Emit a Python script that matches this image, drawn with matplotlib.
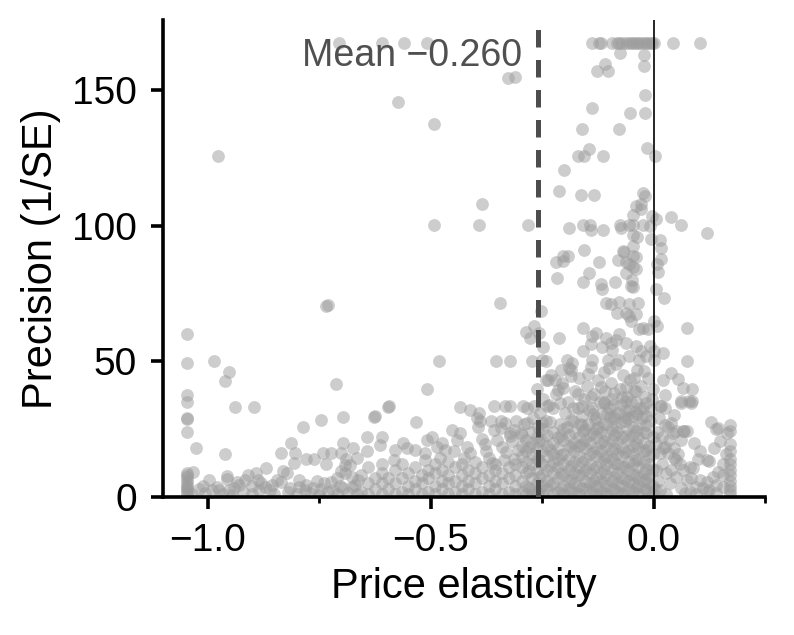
import matplotlib
matplotlib.use("Agg")
import matplotlib.pyplot as plt
import matplotlib.transforms as mtransforms
from matplotlib.ticker import MultipleLocator

plt.rcParams['font.family'] = ['Liberation Sans', 'DejaVu Sans']

mean_elasticity = -0.260
x_ticks = [-1.0, -0.5, 0.0]
x_tick_labels = ['\u22121.0', '\u22120.5', '0.0']
y_ticks = [0, 50, 100, 150]
x_label = 'Price elasticity'
y_label = 'Precision (1/SE)'
mean_label = 'Mean \u22120.260'

# points at the precision cap (top row)
cap_pts = [(-0.705, 167.5), (-0.609, 167.5), (-0.559, 167.5), (-0.508, 167.5), (-0.137, 167.5),
           (-0.122, 167.5), (-0.118, 167.5), (-0.092, 167.5), (-0.083, 167.5), (-0.078, 167.5),
           (-0.075, 164.0), (-0.070, 167.5), (-0.062, 167.5), (-0.054, 167.5), (-0.048, 167.5),
           (-0.043, 167.5), (-0.037, 167.5), (-0.032, 167.5), (-0.026, 167.5), (-0.020, 167.5),
           (-0.014, 167.5), (-0.009, 167.5), (-0.004, 167.5), (0.000, 167.5), (0.043, 167.5),
           (0.105, 167.5)]

# sparse points with high precision
upper_pts = [(-0.022, 163.1), (-0.109, 159.8), (-0.127, 157.2), (-0.101, 157.2), (-0.022, 159.1),
             (-0.326, 154.7), (-0.310, 155.1), (-0.020, 148.3), (-0.574, 145.7), (-0.137, 143.6),
             (-0.053, 141.6), (-0.020, 141.6), (-0.493, 137.7), (-0.161, 135.8), (-0.077, 135.8),
             (-0.144, 128.3), (-0.014, 128.8), (-0.976, 125.7), (-0.170, 125.9), (-0.155, 125.9),
             (-0.113, 125.9), (0.003, 125.9), (-0.201, 120.5), (-0.212, 112.8), (-0.162, 111.5),
             (-0.134, 111.5), (-0.024, 112.2), (-0.019, 110.9), (-0.385, 108.0), (-0.039, 107.2),
             (-0.028, 108.1), (-0.028, 106.3), (-0.047, 104.2), (-0.003, 103.5), (0.006, 102.6),
             (0.040, 103.2), (-0.493, 100.4), (-0.392, 100.4), (-0.282, 100.5), (0.061, 100.5),
             (-0.189, 99.4), (-0.159, 100.5), (-0.143, 100.5), (-0.141, 98.4), (-0.113, 98.4),
             (-0.075, 100.5), (-0.074, 99.4), (-0.054, 100.2), (-0.045, 100.5), (-0.023, 100.5),
             (-0.007, 100.0), (0.121, 97.3), (-0.045, 96.7), (-0.036, 96.0), (-0.006, 95.2),
             (0.014, 94.8), (-0.047, 92.7), (0.016, 91.7), (-0.155, 91.1), (-0.068, 90.9),
             (-0.066, 90.5), (-0.045, 89.0), (-0.039, 88.4), (-0.204, 89.0), (-0.191, 89.0),
             (-0.218, 86.6), (-0.203, 87.2), (-0.122, 86.6), (0.017, 88.0), (0.007, 85.9),
             (0.009, 83.2), (-0.080, 87.4), (-0.062, 86.6), (-0.054, 85.9), (-0.045, 84.7),
             (-0.040, 84.1), (-0.062, 82.8), (-0.216, 80.7), (-0.144, 82.5), (-0.159, 79.4),
             (-0.118, 78.5), (-0.086, 79.4), (-0.048, 80.0), (-0.116, 76.7), (-0.050, 77.9),
             (-0.045, 77.3), (0.006, 76.7), (0.023, 73.6), (-0.107, 71.5), (-0.095, 71.1),
             (-0.078, 72.0), (-0.054, 71.1), (-0.034, 71.5), (-0.345, 71.7), (-0.734, 70.5),
             (-0.731, 70.7), (-0.083, 68.0), (-0.062, 68.0), (-0.253, 68.6), (-0.054, 66.8),
             (-0.039, 67.4), (-0.050, 64.9), (0.000, 64.9), (0.008, 63.1), (-0.024, 62.5),
             (-0.013, 61.9), (-0.032, 61.9), (0.074, 62.5), (-0.159, 62.5), (-0.268, 63.1),
             (-0.287, 60.9), (-0.277, 58.8), (-0.257, 60.6), (-0.129, 60.6), (-0.137, 59.4),
             (-0.077, 60.0), (-1.047, 60.0), (-0.213, 58.8), (-0.107, 58.8), (-0.084, 58.1),
             (-0.140, 56.3), (-0.095, 56.9), (-0.062, 56.9), (-0.247, 55.5), (-0.039, 55.7),
             (-0.009, 55.7), (-0.028, 53.8), (0.000, 53.8), (-0.016, 52.0), (0.021, 53.2),
             (-0.159, 54.0), (-0.116, 55.2), (-0.092, 54.2), (-0.054, 52.0)]

# moderate precision zone left of zero
mid_pts = [(-0.249, 50.7), (0.000, 50.7), (-0.480, 50.0), (-0.354, 50.0), (-0.322, 50.0),
           (-0.273, 50.0), (-0.242, 50.0), (-0.193, 50.7), (-0.182, 49.6), (-0.137, 50.7),
           (-0.101, 50.7), (-0.077, 50.7), (-0.032, 50.7), (-0.189, 47.6), (-0.207, 47.0),
           (-0.185, 44.6), (-0.237, 43.3), (-0.222, 43.3), (-0.204, 40.3), (-0.215, 39.6),
           (-0.242, 43.3), (-0.292, 33.5), (-0.268, 33.5), (-0.239, 33.5), (-0.283, 27.4),
           (-0.249, 27.4), (-0.298, 23.6),
           (-0.290, 27.0), (-0.283, 33.0), (-0.270, 29.0), (-0.262, 40.0), (-0.255, 31.0),
           (-0.247, 36.0), (-0.240, 28.0), (-0.230, 45.0), (-0.225, 33.0), (-0.218, 38.0),
           (-0.210, 27.0), (-0.205, 42.0), (-0.198, 31.0), (-0.192, 35.0), (-0.186, 47.0),
           (-0.180, 28.0), (-0.175, 39.0), (-0.170, 33.0), (-0.166, 44.0), (-0.160, 30.0),
           (-0.155, 36.0), (-0.150, 41.0), (-0.146, 27.0), (-0.141, 48.0), (-0.137, 33.0),
           (-0.133, 38.0), (-0.128, 29.0), (-0.124, 43.0), (-0.120, 35.0), (-0.116, 31.0),
           (-0.112, 46.0), (-0.108, 39.0), (-0.104, 27.0), (-0.100, 33.0), (-0.096, 42.0),
           (-0.092, 36.0), (-0.088, 29.0), (-0.084, 49.0), (-0.080, 31.0), (-0.076, 40.0),
           (-0.072, 34.0), (-0.068, 45.0), (-0.064, 28.0), (-0.060, 37.0), (-0.056, 32.0),
           (-0.052, 43.0), (-0.048, 30.0), (-0.044, 39.0), (-0.040, 35.0), (-0.036, 47.0),
           (-0.032, 27.0), (-0.028, 41.0), (-0.024, 33.0), (-0.020, 37.0), (-0.016, 30.0),
           (-0.012, 44.0), (-0.008, 28.0), (-0.004, 36.0), (-0.001, 40.0),
           (-0.260, 26.0), (-0.235, 34.0), (-0.195, 26.0), (-0.165, 27.0), (-0.145, 32.0),
           (-0.125, 26.0), (-0.105, 31.0), (-0.085, 26.0), (-0.065, 32.0), (-0.045, 26.0),
           (-0.025, 29.0), (-0.006, 32.0), (-0.140, 37.0), (-0.110, 35.0), (-0.090, 34.0),
           (-0.070, 37.0), (-0.050, 35.0), (-0.030, 33.0), (-0.180, 33.0),
           (-0.158, 24.5), (-0.132, 28.5), (-0.097, 29.5), (-0.074, 27.5), (-0.058, 29.0),
           (-0.038, 30.5), (-0.017, 26.5), (-0.118, 40.5), (-0.062, 40.5), (-0.148, 45.5),
           (-0.100, 47.5), (-0.043, 44.0), (-0.022, 46.5), (-0.170, 38.0), (-0.210, 34.5)]

# dense core near the mean: x positions and their precision values
core_col_x = [-0.295, -0.285, -0.272, -0.262, -0.250, -0.238, -0.226, -0.214, -0.202, -0.190,
              -0.178, -0.166, -0.154, -0.142, -0.130, -0.118, -0.106, -0.094, -0.082, -0.070,
              -0.058, -0.046, -0.034, -0.022, -0.010, -0.002]
core_col_y = [[2, 6, 11, 15, 19, 23], [4, 9, 13, 17, 21, 1], [3, 7, 12, 16, 20, 24, 0.8],
              [2, 5, 10, 14, 18, 22], [1, 4, 8, 12, 17, 21, 25], [3, 6, 10, 15, 19, 23],
              [1, 5, 9, 13, 16, 20, 24], [2, 7, 11, 14, 18, 22], [1, 4, 8, 12, 16, 21, 25],
              [3, 6, 10, 14, 19, 23], [2, 5, 9, 13, 17, 20, 24], [1, 4, 8, 11, 15, 19, 22],
              [3, 6, 10, 14, 18, 21, 25], [2, 5, 9, 12, 16, 20, 23], [1, 4, 7, 11, 15, 18, 22, 25],
              [2, 6, 9, 13, 17, 20, 24], [1, 4, 8, 12, 15, 19, 23], [3, 6, 10, 14, 17, 21, 25],
              [2, 5, 9, 12, 16, 20, 24], [1, 4, 7, 11, 15, 18, 22], [3, 6, 10, 13, 17, 21, 25],
              [2, 5, 8, 12, 16, 19, 23], [1, 4, 7, 11, 14, 18, 22], [3, 6, 9, 13, 17, 20, 24],
              [2, 5, 8, 12, 15, 19], [1, 4, 10, 16, 22]]

# second, offset layer of the dense core
core2_col_x = [-0.280, -0.256, -0.232, -0.208, -0.184, -0.160, -0.136, -0.112, -0.088, -0.064,
               -0.040, -0.016]
core2_col_y = [[3.5, 9.5, 18.5], [2.5, 7.5, 13.5, 20.5], [4.5, 11.5, 17.5, 27.5],
               [3.0, 9.0, 15.5, 22.5], [2.0, 6.5, 11.5, 18.5, 28.5],
               [3.5, 8.5, 13.0, 19.5, 26.5, 33.5], [2.5, 6.0, 10.5, 16.5, 23.5, 30.5],
               [1.5, 5.5, 10.0, 14.5, 20.5, 27.0, 34.5], [3.0, 7.5, 12.5, 18.0, 23.0, 30.0, 38.5],
               [2.0, 6.5, 11.0, 16.5, 22.5, 29.5, 35.5], [3.5, 8.0, 13.5, 20.0, 24.5, 31.5, 39.0],
               [2.5, 6.5, 10.5, 17.5, 23.5, 34.5]]

# low precision studies far from zero
left_pts = [(-1.047, 49.3), (-1.047, 37.8), (-1.047, 34.9), (-1.047, 28.8), (-1.046, 29.0),
            (-1.047, 24.0), (-0.986, 50.0), (-0.953, 46.0), (-0.962, 42.7), (-0.711, 41.7),
            (-0.938, 33.2), (-0.896, 33.2), (-0.696, 29.5), (-0.745, 28.3), (-0.786, 26.0),
            (-1.026, 18.0), (-0.962, 15.8), (-0.812, 19.9), (-0.835, 16.4), (-0.805, 16.4),
            (-0.779, 14.0), (-0.761, 14.0), (-0.741, 16.4), (-0.724, 16.4), (-0.734, 12.1),
            (-0.696, 19.9), (-0.700, 16.4), (-0.673, 18.0), (-0.689, 14.0), (-0.692, 11.9),
            (-0.700, 9.6), (-0.806, 12.5), (-0.869, 10.6), (-0.681, 11.9),
            (-1.047, 8.8), (-1.047, 7.5), (-1.047, 6.3), (-1.047, 5.0), (-1.047, 4.1),
            (-1.047, 3.0), (-1.047, 2.0), (-1.047, 1.0), (-1.046, 8.2), (-1.046, 3.5),
            (-1.032, 9.1), (-1.019, 2.8), (-0.996, 6.3), (-0.989, 2.6), (-0.974, 2.6),
            (-0.956, 7.8), (-0.956, 6.5), (-0.953, 2.6), (-0.941, 3.2), (-0.929, 4.4),
            (-0.916, 6.3), (-0.910, 8.1), (-0.891, 8.8), (-0.887, 6.3), (-0.880, 5.1),
            (-0.872, 3.6), (-0.860, 2.6), (-0.845, 6.3), (-0.835, 5.7), (-0.830, 9.6),
            (-0.823, 9.0), (-0.794, 6.3), (-0.794, 3.6), (-0.779, 4.4), (-0.764, 3.2),
            (-0.782, 2.6), (-0.738, 5.1), (-0.723, 5.7), (-0.704, 4.1), (-0.719, 2.6),
            (-0.696, 3.2), (-0.677, 3.6), (-0.662, 6.3), (-0.692, 9.0), (-0.677, 7.5),
            (-1.035, 1.2), (-1.005, 1.5), (-0.965, 1.0), (-0.945, 0.8), (-0.920, 1.8),
            (-0.900, 1.2), (-0.885, 2.5), (-0.850, 1.0), (-0.820, 1.8), (-0.800, 1.0),
            (-0.770, 1.5), (-0.750, 0.8), (-0.730, 2.0), (-0.710, 1.2), (-0.685, 1.5),
            (-0.665, 1.0), (-1.010, 4.0), (-0.980, 3.8), (-0.935, 5.5), (-0.900, 3.9),
            (-0.855, 4.5), (-0.815, 3.5), (-0.755, 6.0), (-0.745, 3.0), (-0.710, 7.0),
            (-0.670, 4.5),
            (-0.596, 33.2), (-0.593, 33.4), (-0.627, 29.7), (-0.624, 29.9), (-0.533, 27.5),
            (-0.509, 40.0), (-0.433, 33.2), (-0.412, 32.2), (-0.392, 31.0), (-0.396, 29.1),
            (-0.388, 27.9), (-0.394, 26.0), (-0.357, 33.5), (-0.332, 33.5), (-0.321, 33.5),
            (-0.364, 27.9), (-0.343, 27.9), (-0.332, 27.4), (-0.309, 27.9), (-0.358, 24.8),
            (-0.343, 25.4), (-0.313, 24.8), (-0.321, 23.6),
            (-0.643, 22.3), (-0.610, 22.3), (-0.613, 19.3), (-0.643, 16.8), (-0.666, 14.3),
            (-0.562, 19.9), (-0.580, 17.4), (-0.553, 18.0), (-0.535, 17.4), (-0.583, 13.7),
            (-0.512, 16.2), (-0.508, 21.1), (-0.497, 22.3), (-0.486, 18.6), (-0.475, 19.9),
            (-0.467, 17.4), (-0.478, 14.3), (-0.512, 13.7), (-0.452, 24.8), (-0.441, 21.1),
            (-0.433, 23.6), (-0.448, 16.8), (-0.418, 18.6), (-0.411, 16.2), (-0.426, 14.3),
            (-0.385, 21.5), (-0.375, 17.0), (-0.368, 14.5), (-0.377, 19.5), (-0.352, 21.0),
            (-0.340, 18.5), (-0.330, 16.5), (-0.318, 20.5), (-0.335, 13.5), (-0.305, 17.5),
            (-0.312, 14.0), (-0.322, 22.5), (-0.362, 12.5)]

# low precision band between -0.66 and -0.30
left_col_x = [-0.655, -0.640, -0.625, -0.610, -0.595, -0.580, -0.565, -0.550, -0.535, -0.520,
              -0.505, -0.490, -0.475, -0.460, -0.445, -0.430, -0.415, -0.400, -0.385, -0.370,
              -0.355, -0.340, -0.325, -0.310]
left_col_y = [[2, 8], [1, 5, 11], [3, 7], [1, 5, 9, 12], [3, 7], [1, 5, 10], [2, 7, 12],
              [1, 4, 9], [3, 6, 11], [1, 5, 8], [2, 7, 10], [1, 4, 9, 12], [3, 6, 10],
              [1, 5, 8, 13], [2, 6, 11], [1, 4, 8, 12], [3, 6, 10], [1, 5, 9, 13], [2, 7, 11],
              [1, 4, 8], [3, 6, 10, 12], [1, 5, 9], [2, 7, 11], [1, 4, 8, 12]]

# positive elasticities
right_pts = [(0.074, 50.0), (0.021, 43.3), (0.040, 45.8), (0.055, 43.6), (0.066, 40.3),
             (0.087, 39.9), (0.025, 37.8), (0.017, 33.4), (0.062, 35.3), (0.080, 35.3),
             (0.087, 35.3), (0.014, 33.4), (0.025, 32.8), (0.062, 34.7), (0.085, 34.7),
             (0.047, 30.4), (0.025, 26.7), (0.032, 26.0), (0.040, 27.3), (0.066, 24.2),
             (0.051, 24.2), (0.074, 24.2), (0.062, 21.1), (0.130, 27.5), (0.141, 25.1),
             (0.164, 23.6), (0.171, 26.7), (0.171, 24.2), (0.171, 19.6), (0.145, 25.4),
             (0.006, 19.9), (0.021, 18.0), (0.025, 18.6), (0.032, 16.2), (0.014, 16.2),
             (0.047, 14.3), (0.051, 13.7), (0.066, 10.0), (0.081, 11.2), (0.089, 10.6),
             (0.104, 6.3), (0.119, 5.7), (0.125, 13.1), (0.119, 13.7), (0.134, 7.5),
             (0.145, 9.4), (0.156, 8.1), (0.141, 4.4), (0.156, 3.8), (0.171, 14.0),
             (0.171, 12.0), (0.171, 10.0), (0.171, 8.0), (0.171, 6.0), (0.171, 4.0),
             (0.171, 2.5), (0.171, 1.2), (0.171, 17.0), (0.111, 3.2), (0.119, 1.9),
             (0.074, 6.3), (0.051, 7.5), (0.029, 8.8), (0.036, 5.1), (0.014, 2.6),
             (0.029, 1.2), (0.062, 3.2), (0.081, 2.0), (0.096, 3.8), (0.141, 1.5),
             (0.005, 10.0), (0.010, 6.0), (0.004, 3.0), (0.018, 12.0), (0.008, 24.0),
             (0.020, 22.0), (0.012, 29.0), (0.035, 21.0), (0.045, 18.0), (0.055, 16.0),
             (0.090, 20.0), (0.105, 17.0), (0.100, 14.0), (0.085, 7.0), (0.060, 12.0),
             (0.040, 10.0), (0.070, 1.5), (0.095, 1.0), (0.125, 2.5), (0.155, 12.0),
             (0.162, 16.0), (0.135, 18.0), (0.150, 20.5), (0.044, 23.6), (0.069, 24.2)]

# ---- assemble ----
xs, ys = [], []
for group in (cap_pts, upper_pts, mid_pts, left_pts, right_pts):
    for px, py in group:
        xs.append(px)
        ys.append(py)
for col_x, col_y in ((core_col_x, core_col_y), (core2_col_x, core2_col_y),
                     (left_col_x, left_col_y)):
    for cx, col in zip(col_x, col_y):
        for py in col:
            xs.append(cx)
            ys.append(py)

fig = plt.figure(figsize=(7.94, 6.35), dpi=100)
ax = fig.add_axes([163 / 794, 1 - 497 / 635, (765 - 163) / 794, (497 - 20) / 635])

ax.scatter(xs, ys, s=85, color='#9c9c9c', alpha=0.5, linewidths=0, zorder=2)

ax.axvline(0.0, color='black', lw=1.2, zorder=3)
ax.axvline(mean_elasticity, color='#4d4d4d', lw=3.6, dashes=(3.5, 2.5), zorder=3)

trans = mtransforms.blended_transform_factory(ax.transData, ax.transAxes)
ax.text(mean_elasticity - 0.034, 0.962, mean_label, transform=trans, ha='right', va='top',
        fontsize=27, color='#505050', zorder=4)

ax.set_xlim(-1.1, 0.25)
ax.set_ylim(0, 176)
ax.set_xticks(x_ticks)
ax.set_xticklabels(x_tick_labels)
ax.xaxis.set_minor_locator(MultipleLocator(0.25))
ax.set_yticks(y_ticks)

for side in ('top', 'right'):
    ax.spines[side].set_visible(False)
for side in ('left', 'bottom'):
    ax.spines[side].set_linewidth(2.6)

ax.tick_params(axis='both', which='major', length=8.6, width=2.6, labelsize=28, pad=10)
ax.tick_params(axis='x', which='minor', length=4.3, width=2.0)
ax.set_xlabel(x_label, fontsize=30, labelpad=6)
ax.set_ylabel(y_label, fontsize=30, labelpad=8)

fig.savefig('out.png', dpi=100)
